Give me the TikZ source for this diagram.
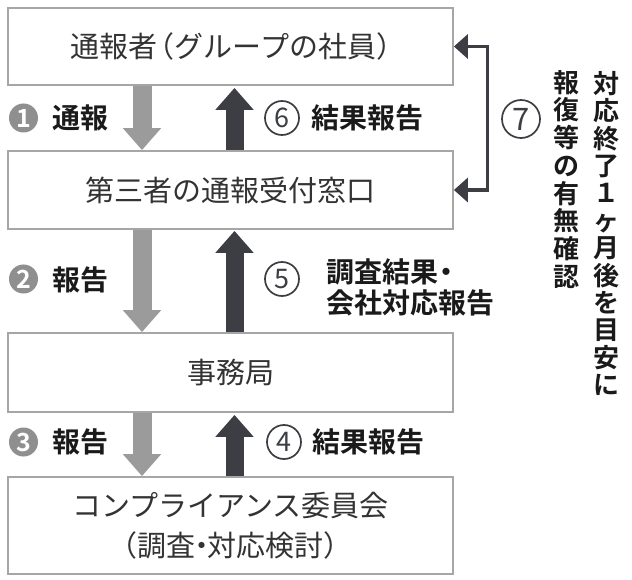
\documentclass[tikz,border=0pt]{standalone}
\usepackage{fontspec}
\setmainfont{Noto Sans CJK JP}[BoldFont={Noto Sans CJK JP Bold}]
\usetikzlibrary{arrows.meta,calc}
\definecolor{boxline}{HTML}{A6A6A6}
\definecolor{boxtext}{HTML}{333333}
\definecolor{downgray}{HTML}{9B9B9B}
\definecolor{darkc}{HTML}{3C3E43}
\definecolor{circgray}{HTML}{8F8F8F}
\definecolor{labelc}{HTML}{1A1A1A}
\newcommand{\tightdot}{\kern-0.28em・\kern-0.28em}
\begin{document}
\begin{tikzpicture}[x=1pt,y=-1pt,
  box/.style={draw=boxline,line width=1.8pt,minimum width=445pt,inner sep=0pt,text=boxtext,font=\fontsize{29}{40}\selectfont,align=center},
  downarr/.style={draw=downgray,line width=19pt,-{Triangle[width=37pt,length=22pt]}},
  uparr/.style={draw=darkc,line width=18pt,-{Triangle[width=37pt,length=22pt]}},
  bracket/.style={draw=darkc,line width=3.5pt,{Triangle[width=24pt,length=14pt]}-{Triangle[width=24pt,length=14pt]}},
  fnum/.style={circle,fill=circgray,text=white,minimum size=29pt,inner sep=0pt,font=\fontsize{25}{25}\selectfont\bfseries},
  onum/.style={circle,draw=darkc,line width=1.7pt,minimum size=34pt,inner sep=0pt,text=darkc,font=\fontsize{27}{27}\selectfont},
  lab/.style={anchor=west,inner sep=0pt,text=labelc,font=\fontsize{28}{31}\selectfont\bfseries,text height=24.6pt,text depth=3.4pt},
  vcol/.style={anchor=north,inner sep=0pt,align=center,text=labelc}
]
\useasboundingbox (0,0) rectangle (632,580);
\fill[white] (0,0) rectangle (632,580);

% boxes
\node[box,minimum height=77pt] (b1) at (230.5,46.5) {通報者\kern-0.4em（グループの社員）\kern-0.5em};
\node[box,minimum height=78pt] (b2) at (230.5,190) {第三者の通報受付窓口};
\node[box,minimum height=79pt] (b3) at (230.5,372.5) {事務局};
\node[box,minimum height=97pt] (b4) at (230.5,525.5) {コンプライアンス委員会\\（調査\tightdot 対応検討）};

\coordinate (dx) at (142,0);
\coordinate (ux) at (234.5,0);
\coordinate (bx) at (487.5,0);

% arrows
\draw[downarr] (b1.south -| dx) -- (b2.north -| dx);
\draw[downarr] (b2.south -| dx) -- (b3.north -| dx);
\draw[downarr] (b3.south -| dx) -- (b4.north -| dx);
\draw[uparr] (b2.north -| ux) -- ($(b1.south -| ux)+(0,2)$);
\draw[uparr] (b3.north -| ux) -- ($(b2.south -| ux)+(0,1)$);
\draw[uparr] (b4.north -| ux) -- ($(b3.south -| ux)+(0,2)$);

% bracket 7
\draw[bracket] (b1.east) -- (b1.east -| bx) -- (b2.east -| bx) -- (b2.east);

% labels
\node[fnum] (n1) at (23.5,118) {1};
\node[lab] (t1) at (52,118) {通報};
\node[onum] (n6) at (282,118) {6};
\node[lab] (t6) at (311,118) {結果報告};

\node[fnum] (n2) at (23.5,279) {2};
\node[lab] (t2) at (52,280) {報告};
\node[onum] (n5) at (282,279) {5};
\node[lab] (t5a) at (326,272) {調査結果\kern-0.22em・};
\node[lab] (t5b) at (326,303) {会社対応報告};

\node[fnum] (n3) at (23.5,442) {3};
\node[lab] (t3) at (52,442) {報告};
\node[onum] (n4) at (284,442) {4};
\node[lab] (t4) at (312,442) {結果報告};

\node[onum,minimum size=38pt,font=\fontsize{31}{31}\selectfont] (n7) at (521,119) {7};

% vertical text
\node[vcol,font=\fontsize{26}{27.7}\selectfont\bfseries] (c1) at (566,70) {報\\復\\等\\の\\有\\無\\確\\認};
\node[vcol,font=\fontsize{26}{27.4}\selectfont\bfseries] (c2) at (606,71) {対\\応\\終\\了\\１\\ヶ\\月\\後\\を\\目\\安\\に};
\end{tikzpicture}
\end{document}
